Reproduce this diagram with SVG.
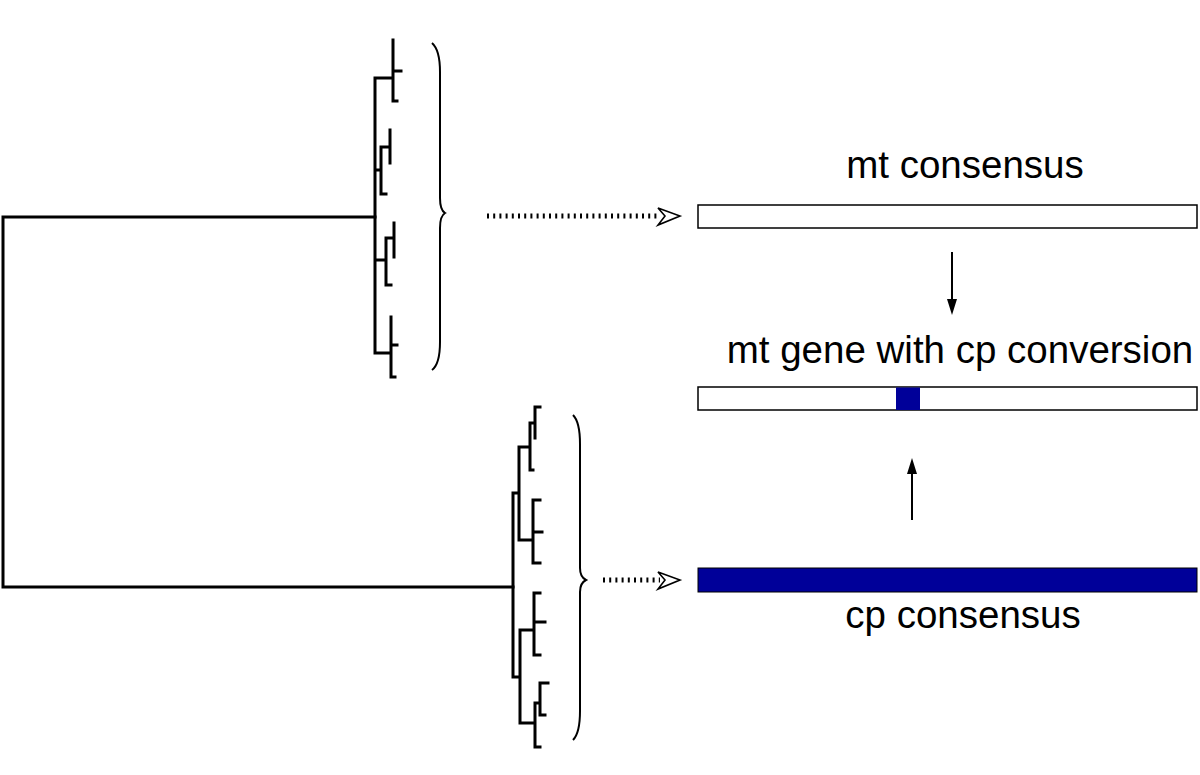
<svg xmlns="http://www.w3.org/2000/svg" width="1200" height="775" viewBox="0 0 1200 775">
<style>
.tree{fill:none;stroke:#000;stroke-width:3;stroke-linecap:square}
.brace{fill:none;stroke:#000;stroke-width:2}
.dot{fill:none;stroke:#000;stroke-width:5;stroke-dasharray:2 4.2}
.head{fill:#fff;stroke:#000;stroke-width:1.6;stroke-linejoin:miter}
.bar{fill:#fff;stroke:#000;stroke-width:1.5}
.blue{fill:#000099}
.lbl{font-family:"Liberation Sans",Arial,sans-serif;font-size:38.5px;fill:#000;text-anchor:middle}
.arr{stroke:#000;stroke-width:2}
</style>
<rect width="1200" height="775" fill="#fff"/>
<g id="tree-root">
<path class="tree" d="M375,217 H3 V587 H513"/>
</g>
<g id="mt-clade">
<path class="tree" d="M375,78 V353
M375,78 H393 M393,40 V101 M393,71 H401 M393,101 H397
M375,170 H381 M381,147 V194 M381,147 H390 M390,130 V163 M381,194 H386
M375,260 H386 M386,238 V285 M386,238 H394 M394,223 V257 M386,285 H391
M375,353 H391 M391,317 V377 M391,345 H397 M391,377 H395"/>
<path class="brace" d="M432,43 Q440,50 440,72 V198 Q440,210 445,213 Q440,216 440,228 V342 Q440,364 432,370"/>
</g>
<g id="cp-clade">
<path class="tree" d="M513,493 V677
M513,493 H519 M519,447 V540
M519,447 H530 M530,423 V470 M530,470 H533 M530,423 H535 M535,407 V438 M535,407 H540
M519,540 H533 M533,500 V563 M533,500 H540 M533,563 H540 M533,532 H542
M513,677 H520 M520,630 V723
M520,630 H534 M534,593 V655 M534,593 H540 M534,655 H540 M534,622 H545
M520,723 H535 M535,703 V747 M535,747 H540 M535,703 H540 M540,683 V715 M540,683 H548 M540,715 H545"/>
<path class="brace" d="M573,415 Q580,422 580,444 V568 Q580,577 586,580 Q580,583 580,592 V711 Q580,733 573,740"/>
</g>
<g id="mt-consensus">
<text class="lbl" x="965" y="178">mt consensus</text>
<rect class="bar" x="698" y="205" width="499" height="23"/>
</g>
<g id="mt-gene-conversion">
<text class="lbl" x="960" y="363">mt gene with cp conversion</text>
<rect class="bar" x="698" y="387" width="499" height="23"/>
<rect class="blue" x="896" y="387.5" width="24" height="22.5"/>
</g>
<g id="cp-consensus">
<rect x="698" y="568" width="499" height="24" fill="#000099" stroke="#000" stroke-width="1"/>
<text class="lbl" x="963" y="628">cp consensus</text>
</g>
<g id="connectors">
<path class="dot" d="M487,216 H660"/>
<path class="head" d="M658,208 L680,216 L658,225 L665,216 Z"/>
<path class="dot" d="M603,580 H660"/>
<path class="head" d="M658,572 L680,580 L658,589 L665,580 Z"/>
<line class="arr" x1="952" y1="252" x2="952" y2="302"/>
<path d="M947,299 L957,299 L952,315 Z"/>
<line class="arr" x1="912" y1="520" x2="912" y2="470"/>
<path d="M907,474 L917,474 L912,458 Z"/>
</g>
</svg>
